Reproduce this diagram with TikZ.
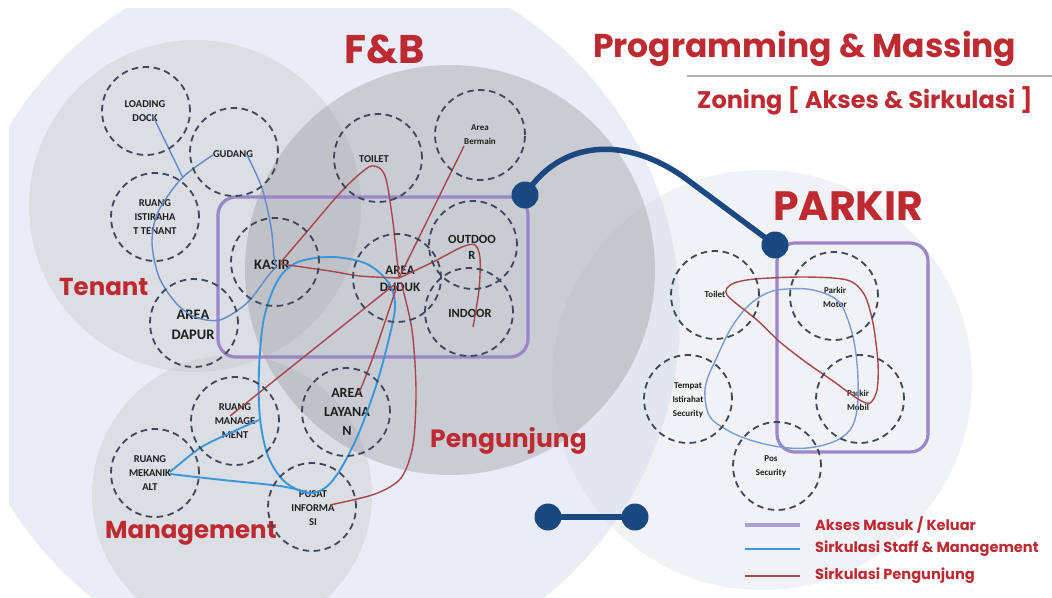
\documentclass[tikz,border=0pt]{standalone}
\usepackage{fontspec}
\setmainfont{Poppins}
\newfontfamily\carlito{Carlito}
\begin{document}
\definecolor{bgblue}{HTML}{E9EEF6}
\definecolor{zonegray}{HTML}{CBCCCE}
\definecolor{fbgray}{HTML}{8C8D91}
\definecolor{parkgray}{HTML}{D6DBE4}
\definecolor{roomc}{HTML}{3E4858}
\definecolor{labelc}{HTML}{1E1E1E}
\definecolor{titlered}{HTML}{BE2A32}
\definecolor{navy}{HTML}{1C4882}
\definecolor{purp}{HTML}{9A86CA}
\definecolor{legpurp}{HTML}{ACA0DA}
\definecolor{staffa}{HTML}{6489CC}
\definecolor{staffb}{HTML}{3A97DC}
\definecolor{visit}{HTML}{A8454D}
\definecolor{rulegray}{HTML}{B4B4B4}
\tikzset{
  room/.style={circle, draw=roomc, dash pattern=on 6.5pt off 4.5pt, line width=1.8pt, minimum size=88pt, inner sep=0pt},
  lbl/.style={font=\carlito\bfseries\fontsize{10.5}{14}\selectfont, text=labelc, align=center, inner sep=0pt},
  lblbig/.style={font=\carlito\bfseries\fontsize{14.5}{20}\selectfont, text=labelc, align=center, inner sep=0pt},
  lblmid/.style={font=\carlito\bfseries\fontsize{13}{17.5}\selectfont, text=labelc, align=center, inner sep=0pt},
  lblsm/.style={font=\carlito\bfseries\fontsize{9}{14}\selectfont, text=labelc, align=center, inner sep=0pt},
  zonelbl/.style={font=\bfseries\fontsize{24.5}{30}\selectfont, text=titlered, inner sep=0pt, anchor=base west},
  accessbox/.style={draw=purp, line width=3.2pt, rounded corners=18pt},
  staffA/.style={draw=staffa, line width=1.4pt},
  staffB/.style={draw=staffb, line width=1.9pt},
  visitline/.style={draw=visit, line width=1.4pt},
  navyline/.style={draw=navy, line width=5.5pt},
  navydot/.style={circle, fill=navy, minimum size=27pt, inner sep=0pt},
  legtxt/.style={font=\bfseries\fontsize{14.6}{17}\selectfont, text=titlered, anchor=west, inner sep=0pt},
}
\begin{tikzpicture}[x=1pt,y=-1pt]
\useasboundingbox (0,0) rectangle (1052,597);
\fill[white] (0,0) rectangle (1052,597);
% background zones
\begin{scope}
  \clip (9,8) rectangle (1052,597);
  \fill[bgblue] (318,315) circle (362pt);
\end{scope}
\fill[parkgray, fill opacity=0.35] (762,380) circle (210pt);
\fill[zonegray, fill opacity=0.45] (195,206) circle (166pt);
\fill[zonegray, fill opacity=0.45] (232,495) circle (140pt);
\fill[fbgray, fill opacity=0.34] (450,270) circle (205pt);

% titles
\node[font=\bfseries\fontsize{33}{40}\selectfont, text=titlered, anchor=base west, inner sep=0pt] (title) at (593,57) {Programming \& Massing};
\draw[rulegray, line width=1.5pt] (687,76) -- (1052,76);
\node[font=\bfseries\fontsize{24}{28}\selectfont, text=titlered, anchor=base west, inner sep=0pt] (subtitle) at (697,108) {Zoning [ Akses \& Sirkulasi ]};
\node[font=\bfseries\fontsize{40}{46}\selectfont, text=titlered, anchor=base west, inner sep=0pt] (fb) at (344,63) {F\&B};
\node[font=\bfseries\fontsize{41}{46}\selectfont, text=titlered, anchor=base west, inner sep=0pt] (parkir) at (773,220) {PARKIR};
\node[zonelbl] (tenant) at (59,295) {Tenant};
\node[zonelbl, font=\bfseries\fontsize{25}{30}\selectfont] (pengunjung) at (430,447) {Pengunjung};
\node[zonelbl] (management) at (105,538) {Management};

% access boxes
\draw[accessbox] (218,197) rectangle (528,357);
\draw[accessbox] (777,243) rectangle (928,452);

% label nodes (used as line ends)
\node[lbl] (tLoad) at (145,111) {LOADING\\DOCK};
\node[lbl] (tGud) at (233,154) {GUDANG};
\node[lbl] (tIst) at (155,217) {RUANG\\ISTIRAHA\\T TENANT};
\node[lblbig] (tDap) at (193,325) {AREA\\DAPUR};
\node[lblbig] (tKas) at (272,265) {KASIR};
\node[lblmid] (tDud) at (400,279) {AREA\\DUDUK};
\node[lbl] (tToi) at (374,159) {TOILET};
\node[lblsm] (tBer) at (480,135) {Area\\Bermain};
\node[lblmid, font=\carlito\bfseries\fontsize{12.5}{16}\selectfont] (tOut) at (472,247) {OUTDOO\\R};
\node[lblmid, font=\carlito\bfseries\fontsize{12.5}{16}\selectfont] (tInd) at (470,313) {INDOOR};
\node[lblmid, font=\carlito\bfseries\fontsize{14}{19}\selectfont] (tLay) at (347,412) {AREA\\LAYANA\\N};
\node[lbl] (tMan) at (235,421) {RUANG\\MANAGE\\MENT};
\node[lbl] (tMek) at (150,473) {RUANG\\MEKANIK\\ALT};
\node[lbl] (tPus) at (313,508) {PUSAT\\INFORMA\\SI};
\node[lblsm] (pToi) at (715,294) {Toilet};
\node[lblsm] (pMot) at (835,297) {Parkir\\Motor};
\node[lblsm] (pTem) at (688,400) {Tempat\\Istirahat\\Security};
\node[lblsm] (pMob) at (858,400) {Parkir\\Mobil};
\node[lblsm] (pPos) at (771,466) {Pos\\Security};

\coordinate (hub) at (399,278);
\coordinate (dockEnd) at (153,116);
\coordinate (jA) at (183,178);

% staff circulation (tenant)
\draw[staffA] (dockEnd) -- (jA);
\draw[staffA] plot[smooth] coordinates {(213,155) (182,178) (158,212) (152,243) (159,277) (176,303) (195,317) (220,320) (247,303) (268,276) (276,267)};
\draw[staffA] plot[smooth] coordinates {(247,155) (262,188) (271,227) (274,257) (276,267)};
% staff circulation (F&B / management)
\draw[staffB] plot[smooth cycle, tension=0.55] coordinates {(307,493) (284,481) (268,456) (260,418) (259,370) (264,318) (278,280) (298,262) (333,257) (367,264) (388,282) (395,303) (391,330) (377,383) (358,435) (340,470) (325,488)};
\draw[staffB] plot[smooth] coordinates {(170,472) (200,448) (230,433) (259,420)};
\draw[staffB] plot[smooth] coordinates {(170,474) (223,480) (280,486) (307,492)};

% visitor circulation (F&B)
\draw[visitline] plot[smooth] coordinates {(281,264) (330,271) (360,276) (hub)};
\draw[visitline] plot[smooth, tension=0.6] coordinates {(281,262) (310,228) (340,193) (362,172) (374,166) (385,176) (392,215) (396,250) (hub)};
\draw[visitline] (464,146) -- (hub);
\draw[visitline] plot[smooth] coordinates {(hub) (433,262) (462,247) (475,245) (480,258) (479,290) (473,327)};
\draw[visitline] (395,284) -- (230,416);
\draw[visitline] plot[smooth] coordinates {(397,286) (385,322) (372,360) (359,393)};
\draw[visitline] plot[smooth] coordinates {(401,282) (412,330) (416,390) (413,445) (401,478) (375,494) (330,505)};

% parkir circulation
\draw[staffA, draw=staffa!85!white] plot[smooth cycle, tension=0.6] coordinates {(707,380) (717,357) (730,330) (747,307) (767,293) (787,289) (813,290) (837,300) (848,320) (855,347) (858,380) (857,410) (850,430) (833,442) (807,448) (780,447) (750,440) (727,430) (710,417) (705,397)};
\draw[visitline] plot[smooth cycle, tension=0.5] coordinates {(727,295) (732,284) (755,279) (805,277) (847,280) (864,294) (873,323) (878,363) (877,390) (870,403) (858,399) (833,381) (807,363) (780,342) (757,320)};

% rooms (dashed circles)
\node[room] (rLoad) at (146,111) {};
\node[room] (rGud) at (234,152) {};
\node[room] (rIst) at (155,217) {};
\node[room] (rDap) at (194,323) {};
\node[room] (rKas) at (275,262) {};
\node[room] (rDud) at (397,278) {};
\node[room] (rToi) at (378,158) {};
\node[room, minimum size=90pt] (rBer) at (480,135) {};
\node[room] (rOut) at (473,245) {};
\node[room] (rInd) at (469,312) {};
\node[room] (rLay) at (346,412) {};
\node[room] (rMan) at (235,421) {};
\node[room] (rMek) at (155,473) {};
\node[room] (rPus) at (312,507) {};
\node[room] (qToi) at (715,295) {};
\node[room] (qMot) at (834,296) {};
\node[room] (qTem) at (688,399) {};
\node[room] (qMob) at (860,399) {};
\node[room] (qPos) at (777,466) {};

% access connectors
\node[navydot] (d1) at (525,195) {};
\node[navydot] (d2) at (775,245) {};
\draw[navyline] (d1.center) .. controls (560,140) and (625,135) .. (685,178) -- (d2.center);
\node[navydot] (d3) at (548,517) {};
\node[navydot] (d4) at (635,517) {};
\draw[navyline] (d3.center) -- (d4.center);

% legend
\coordinate (lg1a) at (745,525); \coordinate (lg1b) at (800,525);
\coordinate (lg2a) at (745,549); \coordinate (lg2b) at (800,549);
\coordinate (lg3a) at (745,576); \coordinate (lg3b) at (800,576);
\draw[draw=legpurp, line width=3.5pt] (lg1a) -- (lg1b);
\draw[draw=staffb, line width=2.5pt] (lg2a) -- (lg2b);
\draw[draw=visit, line width=2pt] (lg3a) -- (lg3b);
\node[legtxt] (leg1) at (815,525) {Akses Masuk / Keluar};
\node[legtxt] (leg2) at (815,549) {Sirkulasi Staff \& Management};
\node[legtxt] (leg3) at (815,576) {Sirkulasi Pengunjung};
\end{tikzpicture}
\end{document}
